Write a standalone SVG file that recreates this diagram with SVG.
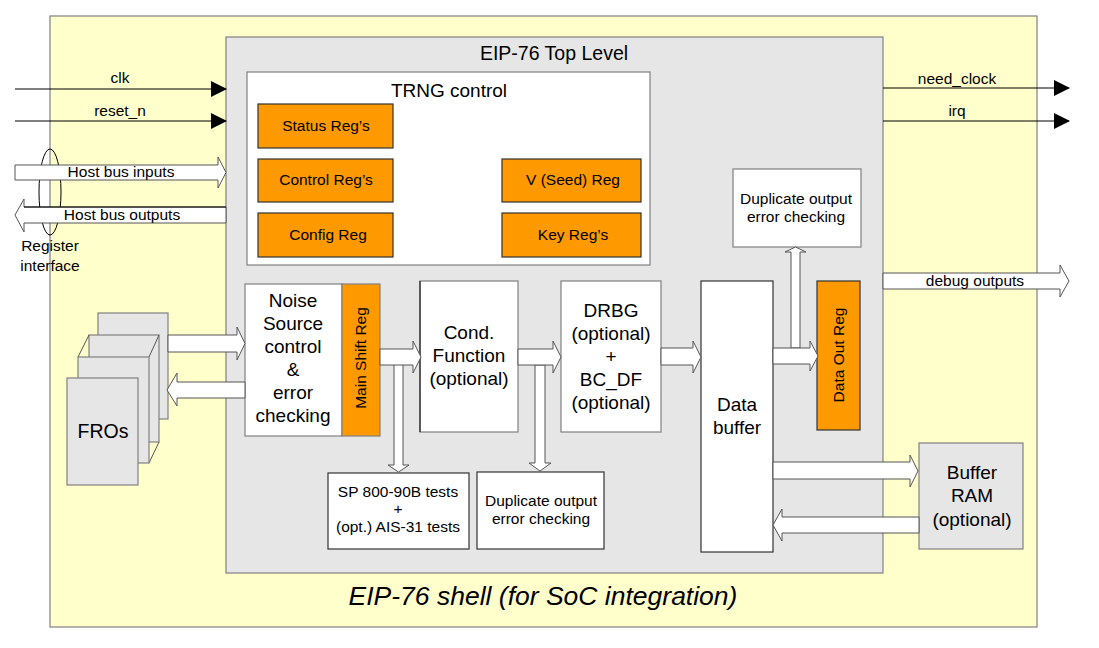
<svg xmlns="http://www.w3.org/2000/svg" width="1099" height="648" viewBox="0 0 1099 648">
<style>
text{font-family:"Liberation Sans",Arial,sans-serif;fill:#000;text-anchor:middle}
.s14{font-size:15.5px}
.s18{font-size:19px}
.box{fill:#fff;stroke:#808080;stroke-width:1.2}
.dbox{fill:#fff;stroke:#333;stroke-width:1.2}
.gbox{fill:#e6e6e6;stroke:#808080;stroke-width:1.2}
.reg{fill:#ff9900;stroke:#333;stroke-width:1.2}
.barrow{fill:#fff;stroke:#555;stroke-width:1}
.line{stroke:#000;stroke-width:1.2;fill:none}
</style>
<defs>
<marker id="ah" markerWidth="16" markerHeight="16" refX="15" refY="8" orient="auto" markerUnits="userSpaceOnUse">
<path d="M0,0 L16,8 L0,16 Z" fill="#000"/>
</marker>
</defs>
<rect width="1099" height="648" fill="#fff"/>
<g id="shell">
<rect x="50" y="16" width="987" height="611" fill="#ffffcc" stroke="#808080" stroke-width="1.2"/>
<text x="543" y="605" style="font-size:26.5px;font-style:italic">EIP-76 shell (for SoC integration)</text>
</g>
<g id="toplevel">
<rect x="226" y="37" width="657" height="536" class="gbox"/>
<text x="554" y="60" style="font-size:19.5px">EIP-76 Top Level</text>
</g>
<g id="trng-control">
<rect x="247" y="72" width="403" height="193" class="box"/>
<text x="449" y="97" class="s18">TRNG control</text>
</g>
<g id="status-reg"><rect x="258" y="104" width="135" height="44" class="reg"/><text x="326" y="131" class="s14">Status Reg’s</text></g>
<g id="control-reg"><rect x="258" y="159" width="135" height="43" class="reg"/><text x="326" y="185" class="s14">Control Reg’s</text></g>
<g id="config-reg"><rect x="258" y="213" width="135" height="44" class="reg"/><text x="328" y="240" class="s14">Config Reg</text></g>
<g id="v-seed-reg"><rect x="502" y="159" width="139" height="43" class="reg"/><text x="573" y="185" class="s14">V (Seed) Reg</text></g>
<g id="key-reg"><rect x="502" y="213" width="139" height="44" class="reg"/><text x="573" y="240" class="s14">Key Reg’s</text></g>
<g id="fros">
<rect x="98" y="313" width="70" height="106" class="gbox"/>
<rect x="89" y="335" width="70" height="107" class="gbox" stroke="#333"/>
<line x1="89" y1="335" x2="78" y2="357" stroke="#555"/>
<line x1="159" y1="335" x2="149" y2="357" stroke="#555"/>
<line x1="159" y1="442" x2="149" y2="463" stroke="#555"/>
<rect x="78" y="357" width="71" height="106" class="gbox"/>
<rect x="67" y="378" width="71" height="107" class="gbox"/>
<text x="103" y="438" style="font-size:19.5px">FROs</text>
</g>
<g id="noise-source">
<rect x="245" y="284" width="97" height="152" class="box"/>
<text x="293" y="307" class="s18">Noise</text>
<text x="293" y="330" class="s18">Source</text>
<text x="293" y="353" class="s18">control</text>
<text x="293" y="376" class="s18">&amp;</text>
<text x="293" y="399" class="s18">error</text>
<text x="293" y="422" class="s18">checking</text>
</g>
<g id="main-shift-reg">
<rect x="342" y="284" width="38" height="152" fill="#ff9900" stroke="#808080" stroke-width="1.2"/>
<text x="0" y="0" class="s14" transform="translate(366,358) rotate(-90)">Main Shift Reg</text>
</g>
<g id="cond-function">
<rect x="420" y="281" width="98" height="151" class="box"/>
<line x1="420" y1="281" x2="420" y2="432" stroke="#222" stroke-width="1.2"/>
<text x="469" y="339" class="s18">Cond.</text>
<text x="469" y="362" class="s18">Function</text>
<text x="469" y="385" class="s18">(optional)</text>
</g>
<g id="drbg">
<rect x="561" y="281" width="100" height="151" class="box"/>
<text x="611" y="317" class="s18">DRBG</text>
<text x="611" y="340" class="s18">(optional)</text>
<text x="611" y="363" class="s18">+</text>
<text x="611" y="386" class="s18">BC_DF</text>
<text x="611" y="409" class="s18">(optional)</text>
</g>
<g id="sp-tests">
<rect x="328" y="473" width="141" height="76" class="dbox"/>
<text x="398" y="497" class="s14">SP 800-90B tests</text>
<text x="398" y="514" class="s14">+</text>
<text x="398" y="532" class="s14">(opt.) AIS-31 tests</text>
</g>
<g id="dup-check-1">
<rect x="477" y="472" width="127" height="77" class="dbox"/>
<text x="541" y="506" class="s14">Duplicate output</text>
<text x="541" y="524" class="s14">error checking</text>
</g>
<g id="data-buffer">
<rect x="701" y="281" width="72" height="271" class="dbox"/>
<text x="737" y="411" class="s18">Data</text>
<text x="737" y="434" class="s18">buffer</text>
</g>
<g id="dup-check-2">
<rect x="733" y="169" width="128" height="78" class="box"/>
<text x="796" y="204" class="s14">Duplicate output</text>
<text x="796" y="222" class="s14">error checking</text>
</g>
<g id="data-out-reg">
<rect x="817" y="281" width="43" height="149" class="reg"/>
<text x="0" y="0" class="s14" transform="translate(844,355) rotate(-90)">Data Out Reg</text>
</g>
<g id="buffer-ram">
<rect x="919" y="443" width="104" height="106" class="gbox"/>
<text x="972" y="479" class="s18">Buffer</text>
<text x="972" y="502" class="s18">RAM</text>
<text x="972" y="526" class="s18">(optional)</text>
</g>
<g id="register-interface">
<ellipse cx="50" cy="192" rx="11" ry="43" fill="none" stroke="#000" stroke-width="1"/>
<text x="50" y="251" class="s14">Register</text>
<text x="50" y="271" class="s14">interface</text>
</g>
<g id="connectors">
<line x1="15" y1="89" x2="226" y2="89" class="line" marker-end="url(#ah)"/>
<text x="120" y="83" class="s14">clk</text>
<line x1="15" y1="121" x2="226" y2="121" class="line" stroke="#666" marker-end="url(#ah)"/>
<text x="120" y="116" class="s14">reset_n</text>
<polygon points="15,165 218,165 218,157 226,172.5 218,188 218,180 15,180" class="barrow"/>
<text x="121" y="177" class="s14">Host bus inputs</text>
<polygon points="226,207 24,207 24,199 15,215 24,232 24,223 226,223" class="barrow"/>
<line x1="24" y1="207" x2="226" y2="207" stroke="#000" stroke-width="1"/>
<text x="122" y="220" class="s14">Host bus outputs</text>
<line x1="883" y1="88" x2="1069" y2="88" class="line" marker-end="url(#ah)"/>
<text x="957" y="84" class="s14">need_clock</text>
<line x1="883" y1="121" x2="1069" y2="121" class="line" stroke="#666" marker-end="url(#ah)"/>
<text x="957" y="116" class="s14">irq</text>
<polygon points="883,273 1060,273 1060,265 1069,281 1060,297 1060,289 883,289" class="barrow"/>
<text x="975" y="286" class="s14">debug outputs</text>
<polygon points="168,335 237,335 237,327 245,343.5 237,360 237,352 168,352" class="barrow"/>
<polygon points="245,382 177,382 177,373 167,390 177,406 177,398 245,398" class="barrow"/>
<polygon points="394,364 394,465 388,465 398.5,472 409,465 403,465 403,364" class="barrow"/>
<polygon points="380,349 413,349 413,341 421,357 413,373 413,365 380,365" class="barrow"/>
<polygon points="535,365 535,463 529,463 540,471 551,463 545,463 545,365" class="barrow"/>
<polygon points="518,349 553,349 553,341 561,357 553,373 553,365 518,365" class="barrow"/>
<polygon points="661,348 693,348 693,341 701,357 693,373 693,365 661,365" class="barrow"/>
<polygon points="791,348 791,252 785,252 795.5,247 806,252 800,252 800,348" class="barrow"/>
<polygon points="773,348 810,348 810,341 818,356 810,371 810,364 773,364" class="barrow"/>
<polygon points="773,462 910,462 910,455 918,471 910,487 910,479 773,479" class="barrow"/>
<polygon points="919,517 782,517 782,509 773,525 782,541 782,533 919,533" class="barrow"/>
</g>
</svg>
